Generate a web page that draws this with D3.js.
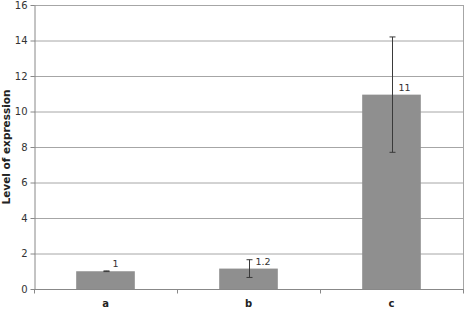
<!DOCTYPE html>
<html>
<head>
<meta charset="utf-8">
<script src="https://cdn.jsdelivr.net/npm/d3@7"></script>
<style>
  body { margin: 0; background: #fff; }
  svg { display: block; font-family: "DejaVu Sans", Verdana, sans-serif; }
</style>
</head>
<body>
<script>
const categories = ['a', 'b', 'c']
const values = [1, 1.15, 10.95]
const errors = [0.02, 0.5, 3.25]
const valueLabels = ['1', '1.2', '11']
const yTicks = [0, 2, 4, 6, 8, 10, 12, 14, 16]

const width = 466
const height = 309
const margin = { top: 5, right: 3, bottom: 20, left: 34 }

let svg = d3.select('body').append('svg')
    .attr('width', width)
    .attr('height', height)

let x = d3.scaleBand()
    .domain(categories)
    .range([margin.left, width - margin.right])
    .paddingInner(0.59)
    .paddingOuter(0.295)

let y = d3.scaleLinear()
    .domain([0, 16])
    .range([height - margin.bottom, margin.top])

// gridlines
svg.append('g')
    .selectAll('line')
    .data(yTicks.filter(d => d > 0))
    .join('line')
    .attr('x1', margin.left)
    .attr('x2', width - margin.right)
    .attr('y1', d => y(d) + 0.5)
    .attr('y2', d => y(d) + 0.5)
    .attr('stroke', '#a6a6a6')
    .attr('stroke-width', 1)

// right border
svg.append('line')
    .attr('x1', width - margin.right + 0.5)
    .attr('x2', width - margin.right + 0.5)
    .attr('y1', margin.top)
    .attr('y2', height - margin.bottom)
    .attr('stroke', '#a6a6a6')

// bars
svg.append('g')
    .selectAll('rect')
    .data(categories)
    .join('rect')
    .attr('x', d => x(d))
    .attr('width', x.bandwidth())
    .attr('y', (d, i) => y(values[i]))
    .attr('height', (d, i) => y(0) - y(values[i]))
    .attr('fill', '#8f8f8f')

// error bars
let err = svg.append('g')
    .attr('stroke', '#3a3a3a')
    .attr('stroke-width', 1)
categories.forEach((c, i) => {
    let cx = Math.round(x(c) + x.bandwidth() / 2) + 0.5
    let hi = y(values[i] + errors[i])
    let lo = y(values[i] - errors[i])
    err.append('line').attr('x1', cx).attr('x2', cx).attr('y1', hi).attr('y2', lo)
    err.append('line').attr('x1', cx - 3).attr('x2', cx + 3).attr('y1', hi).attr('y2', hi)
    err.append('line').attr('x1', cx - 3).attr('x2', cx + 3).attr('y1', lo).attr('y2', lo)
})

// value labels
svg.append('g')
    .selectAll('text')
    .data(categories)
    .join('text')
    .attr('x', d => x(d) + x.bandwidth() / 2 + 7)
    .attr('y', (d, i) => y(values[i]) - 4)
    .attr('font-size', 9.5)
    .attr('fill', '#333')
    .text((d, i) => valueLabels[i])

// y axis
let yAxis = svg.append('g')
    .attr('transform', `translate(${margin.left + 0.5},0)`)
    .call(d3.axisLeft(y).tickValues(yTicks).tickSize(4).tickSizeOuter(0))
yAxis.select('.domain').attr('stroke', '#888')
yAxis.selectAll('.tick line').attr('stroke', '#888')
yAxis.selectAll('.tick text')
    .attr('font-size', 10)
    .attr('font-family', '"DejaVu Sans", Verdana, sans-serif')
    .attr('fill', '#333')
    .attr('x', -7)

// x axis
let xAxisY = y(0) + 0.5
let xAxis = svg.append('g')
xAxis.append('line')
    .attr('x1', margin.left)
    .attr('x2', width - margin.right + 1)
    .attr('y1', xAxisY)
    .attr('y2', xAxisY)
    .attr('stroke', '#888')
let bounds = [margin.left].concat(categories.map(c => x(c) + x.bandwidth() + x.step() * x.paddingInner() / 2))
xAxis.selectAll('line.tk')
    .data(bounds)
    .join('line')
    .attr('class', 'tk')
    .attr('x1', d => Math.round(d) + 0.5)
    .attr('x2', d => Math.round(d) + 0.5)
    .attr('y1', xAxisY)
    .attr('y2', xAxisY + 4)
    .attr('stroke', '#888')
xAxis.selectAll('text')
    .data(categories)
    .join('text')
    .attr('x', d => x(d) + x.bandwidth() / 2)
    .attr('y', height - 2)
    .attr('text-anchor', 'middle')
    .attr('font-size', 10)
    .attr('font-weight', 'bold')
    .attr('fill', '#222')
    .text(d => d)

// y title
svg.append('text')
    .attr('transform', `translate(9.5,${(margin.top + height - margin.bottom) / 2}) rotate(-90)`)
    .attr('text-anchor', 'middle')
    .attr('font-size', 10.5)
    .attr('font-weight', 'bold')
    .attr('fill', '#222')
    .text('Level of expression')
</script>
</body>
</html>
